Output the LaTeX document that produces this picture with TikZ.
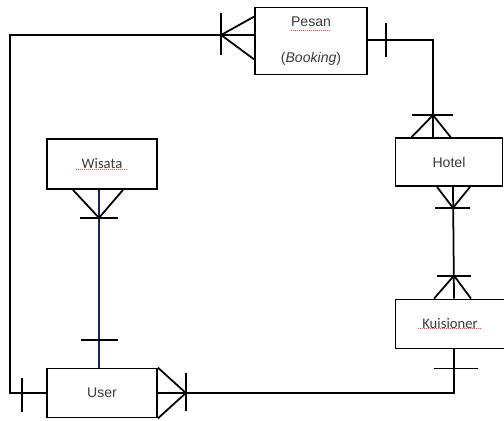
\documentclass[tikz,border=0pt]{standalone}
\usepackage{fontspec}
\setmainfont{Liberation Sans}
\newfontfamily\calfont{Carlito}
\usepackage{tikz}
\usetikzlibrary{positioning,calc}
\definecolor{erline}{RGB}{20, 40, 95}
\definecolor{ertext}{RGB}{60, 60, 60}

\begin{document}
\begin{tikzpicture}[x=0.03cm, y=-0.03cm, line width=1.5pt,
    entity/.style={rectangle, draw, fill=white, minimum width=3.3cm, minimum height=1.47cm, inner sep=0pt, text=ertext, font=\fontsize{12}{14}\selectfont},
    spell/.style={red!75, densely dotted, line width=0.7pt}]
        \useasboundingbox (0,0) rectangle (504,421);

        \node[entity, minimum width=3.36cm, minimum height=2.01cm, align=center] (pesan) at (311,41) {Pesan\\[17pt](\textit{Booking})};
        \node[entity, minimum width=3.21cm, minimum height=1.44cm] (hotel) at (449,162) {Hotel};
        \node[entity, minimum width=3.27cm, minimum height=1.47cm, font=\calfont\fontsize{12.5}{14}\selectfont] (kuisioner) at (450,324) {Kuisioner};
        \node[entity, minimum width=3.3cm, minimum height=1.47cm] (user) at (102,393) {User};
        \node[entity, minimum width=3.3cm, minimum height=1.5cm, font=\calfont\fontsize{12.5}{14}\selectfont] (wisata) at (102,164) {Wisata};

        % spelling marks
        \draw[spell] ($(pesan.north)+(-20,24)$) -- ++(38,0);
        \draw[spell] ($(wisata)+(-26,5)$) -- ++(50,0);
        \draw[spell] ($(kuisioner)+(-32,4)$) -- ++(62,0);

        % User -- Pesan
        \coordinate (lcorner) at (10,35);
        \draw (pesan.west |- lcorner) -- (lcorner) |- (user.west);
        \coordinate (pf) at ($(pesan.west |- lcorner)+(-33,0)$);
        \draw (pf) -- ($(pesan.north west)+(0,10)$);
        \draw (pf) -- ($(pesan.south west)+(0,-16)$);
        \draw ($(pf)+(0,-22)$) -- ($(pf)+(0,20)$);
        \draw ($(user.west)+(-24,-15)$) -- ($(user.west)+(-24,19)$);

        % Pesan -- Hotel
        \coordinate (rcorner) at (433,40);
        \draw (pesan.east |- rcorner) -- (rcorner) -- (rcorner |- hotel.north);
        \draw ($(pesan.east |- rcorner)+(18,-17)$) -- ++(0,34);
        \coordinate (hf) at ($(rcorner |- hotel.north)+(0,-22)$);
        \draw (hf) -- ($(hotel.north west)+(17,0)$);
        \draw (hf) -- ($(hotel.north west)+(56,0)$);
        \draw ($(hf)+(-21,0)$) -- ($(hf)+(20,0)$);

        % Hotel -- Kuisioner
        \draw ($(hotel.south)+(4,0)$) -- ($(kuisioner.north)+(4,0)$);
        \coordinate (hb) at ($(hotel.south)+(4,21)$);
        \draw (hb) -- ($(hotel.south)+(-12,0)$);
        \draw (hb) -- ($(hotel.south)+(21,0)$);
        \draw ($(hb)+(-18,0)$) -- ($(hb)+(17,0)$);
        \coordinate (kt) at ($(kuisioner.north)+(4,-23)$);
        \draw (kt) -- ($(kuisioner.north)+(-16,0)$);
        \draw (kt) -- ($(kuisioner.north)+(21,0)$);
        \draw ($(kt)+(-17,0)$) -- ($(kt)+(17,0)$);

        % Kuisioner -- User
        \draw ($(kuisioner.south)+(4,0)$) |- (user.east);
        \draw ($(kuisioner.south)+(-16,19)$) -- ++(44,0);
        \coordinate (uf) at ($(user.east)+(28,0)$);
        \draw (uf) -- (user.north east);
        \draw (uf) -- (user.south east);
        \draw ($(uf)+(0,-20)$) -- ($(uf)+(0,18)$);

        % Wisata -- User
        \draw[erline] ($(wisata.south)+(-3,0)$) -- ($(user.north)+(-3,0)$);
        \coordinate (wf) at ($(wisata.south)+(-3,28)$);
        \draw (wf) -- ($(wisata.south)+(-29,0)$);
        \draw (wf) -- ($(wisata.south)+(21,0)$);
        \draw ($(wf)+(-19,0)$) -- ($(wf)+(19,0)$);
        \draw ($(user.north)+(-21,-28)$) -- ++(37,0);
    \end{tikzpicture}
\end{document}
